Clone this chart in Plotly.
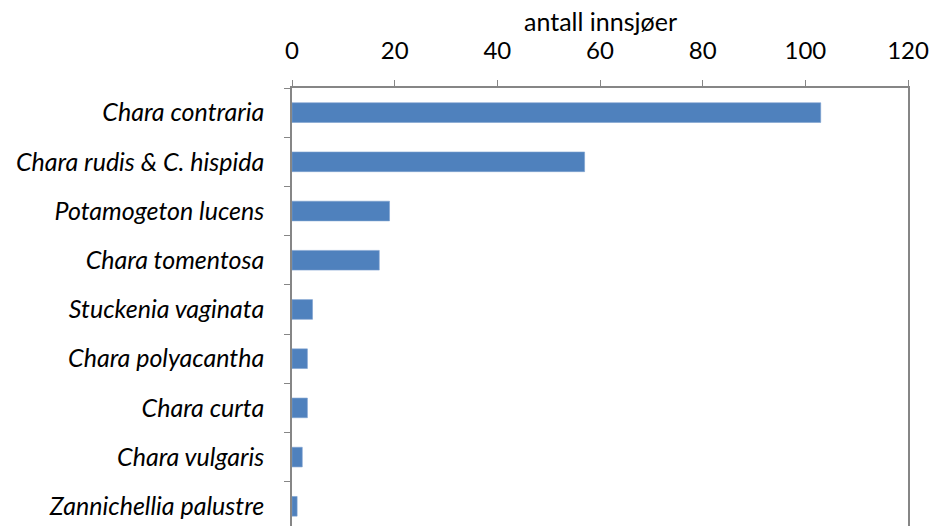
import plotly.graph_objects as go

species = ["Chara contraria", "Chara rudis & C. hispida", "Potamogeton lucens",
           "Chara tomentosa", "Stuckenia vaginata", "Chara polyacantha",
           "Chara curta", "Chara vulgaris", "Zannichellia palustre"]
counts = [103, 57, 19, 17, 4, 3, 3, 2, 1]
x_ticks = [0, 20, 40, 60, 80, 100, 120]
x_title = "antall innsjøer"

FONT = "Lato"
AXIS = "#868686"

fig = go.Figure(go.Bar(
    x=counts, y=species, orientation="h",
    marker=dict(color="#4F81BD", line=dict(color="#7EA1D0", width=0.6)),
    width=0.4,
))

fig.update_layout(
    width=931, height=526,
    margin=dict(l=292, r=23, t=88, b=0),
    paper_bgcolor="white", plot_bgcolor="white",
    showlegend=False,
    font=dict(family=FONT, size=25, color="black"),
    annotations=[dict(
        text=x_title, xref="paper", yref="paper", x=0.5, y=1,
        xanchor="center", yanchor="middle", yshift=67, showarrow=False,
        font=dict(family=FONT, size=25, color="black"),
    )],
)

fig.update_xaxes(
    side="top", range=[0, 120], tickvals=x_ticks,
    showgrid=False, zeroline=False,
    showline=True, linecolor=AXIS, linewidth=1.5,
    ticks="outside", ticklen=6, tickcolor=AXIS, tickwidth=1.2,
    tickfont=dict(family=FONT, size=24),
    ticklabelstandoff=12,
)

fig.update_yaxes(
    type="category", categoryorder="array", categoryarray=species,
    range=[8.4, -0.5],
    showgrid=False, zeroline=False,
    showline=True, linecolor=AXIS, linewidth=1.5, mirror=True,
    ticks="outside", tickson="boundaries", ticklen=6, tickcolor=AXIS, tickwidth=1.2,
    tickfont=dict(family=FONT, size=25, style="italic"),
    ticklabelstandoff=21,
)

fig.write_html(
    "out.html",
    config={"displayModeBar": False},
    post_script="document.body.style.margin='0';document.body.style.overflow='hidden';",
)
